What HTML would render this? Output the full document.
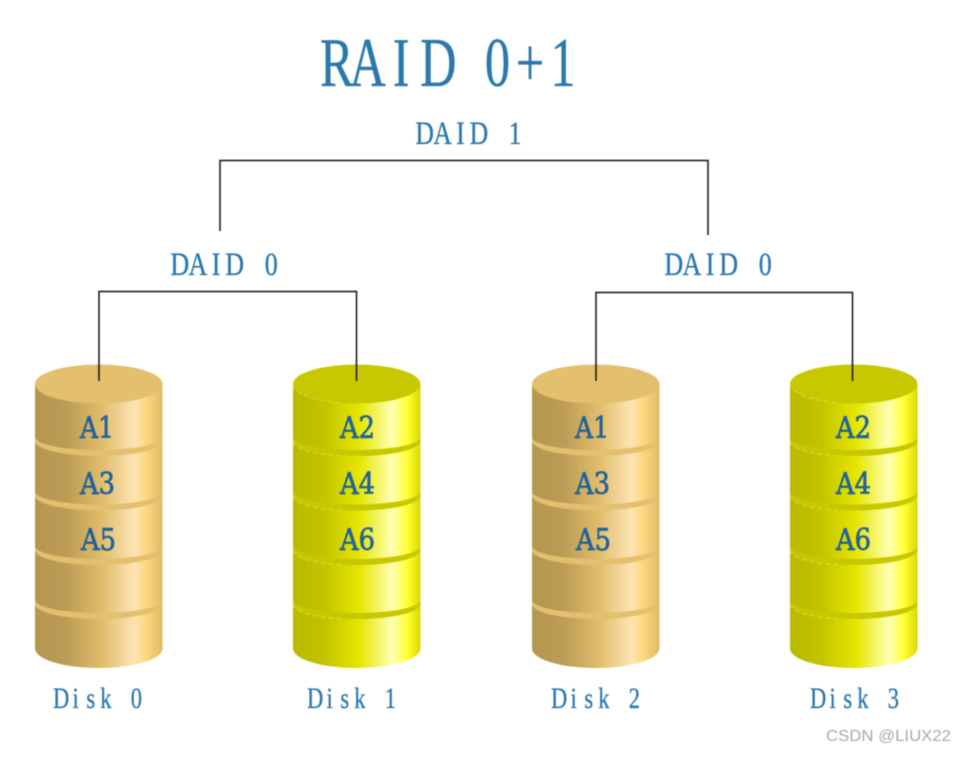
<!DOCTYPE html>
<html><head><meta charset="utf-8"><style>
html,body{margin:0;padding:0;background:#fff;width:974px;height:758px;overflow:hidden}
svg{display:block;filter:blur(.4px)}
text{font-family:"Liberation Serif",serif}
.t{fill:#2b78ad;stroke:#2b78ad;stroke-width:.35px}
.a{fill:#1f629c;font-family:"DejaVu Serif",serif;font-size:30px;stroke:#1f629c;stroke-width:.7px}
</style></head><body>
<svg width="974" height="758" viewBox="0 0 974 758" xmlns="http://www.w3.org/2000/svg">
<defs>
<linearGradient id="g"><stop offset="0" stop-color="#b5974f"/><stop offset=".25" stop-color="#bc9c56"/><stop offset=".52" stop-color="#e0bc6a"/><stop offset=".78" stop-color="#fee4b4"/><stop offset=".88" stop-color="#fcd67c"/><stop offset="1" stop-color="#dfbb68"/></linearGradient>
<linearGradient id="y"><stop offset="0" stop-color="#b9b900"/><stop offset=".25" stop-color="#c4c400"/><stop offset=".52" stop-color="#e6e600"/><stop offset=".78" stop-color="#ffffb4"/><stop offset=".9" stop-color="#ffff30"/><stop offset="1" stop-color="#d8d800"/></linearGradient>
<g id="dg">
<path d="M0 384H127.500V648.500A63.750 19.500 0 0 1 0 648.500Z" fill="url(#g)"/>
<ellipse cx="63.750" cy="384" rx="63.750" ry="19.500" fill="#e3bf6e"/>
<path d="M0 437V441A63.750 15 0 0 0 127.500 441V437A63.750 13 0 0 1 0 437Z" fill="#e3bf6e"/>
<path d="M0 491.500V495.500A63.750 15 0 0 0 127.500 495.500V491.500A63.750 13 0 0 1 0 491.500Z" fill="#e3bf6e"/>
<path d="M0 546V550A63.750 15 0 0 0 127.500 550V546A63.750 13 0 0 1 0 546Z" fill="#e3bf6e"/>
<path d="M0 600V604A63.750 15 0 0 0 127.500 604V600A63.750 13 0 0 1 0 600Z" fill="#e3bf6e"/>
</g>
<g id="dy">
<path d="M0 384H127.500V648.500A63.750 19.500 0 0 1 0 648.500Z" fill="url(#y)"/>
<ellipse cx="63.750" cy="384" rx="63.750" ry="19.500" fill="#c8c800"/>
<path d="M0 437V441A63.750 15 0 0 0 127.500 441V437A63.750 13 0 0 1 0 437Z" fill="#c8c800"/>
<path d="M0 491.500V495.500A63.750 15 0 0 0 127.500 495.500V491.500A63.750 13 0 0 1 0 491.500Z" fill="#c8c800"/>
<path d="M0 546V550A63.750 15 0 0 0 127.500 550V546A63.750 13 0 0 1 0 546Z" fill="#c8c800"/>
<path d="M0 600V604A63.750 15 0 0 0 127.500 604V600A63.750 13 0 0 1 0 600Z" fill="#c8c800"/>
<g fill="none" stroke="#eeee88" stroke-width="1" stroke-dasharray="5 3" opacity=".55">
<path d="M0 384A63.750 19.500 0 0 0 50 403"/>
<path d="M0 441A63.750 15 0 0 0 50 456"/>
<path d="M0 495.500A63.750 15 0 0 0 50 510.500"/>
<path d="M0 550A63.750 15 0 0 0 50 565"/>
<path d="M0 604A63.750 15 0 0 0 50 619"/>
</g>
</g>
</defs>

<use href="#dg" x="35"/>
<use href="#dy" x="293"/>
<use href="#dg" x="532"/>
<use href="#dy" x="790"/>

<g fill="none" stroke="#111" stroke-width="1.500">
<path d="M220 231V160.500H708V235"/>
<path d="M99 381V291.500H356.500V381"/>
<path d="M596 381V292.500H852.500V381"/>
</g>

<text class="t" transform="translate(320 86) scale(.72 1)" font-size="70" x="0 41 101 139 200 229 272 320">RAID 0+1</text>
<text class="t" transform="translate(415 144) scale(.78 1)" font-size="33" x="0.500 23.500 52.800 70 93 120">DAID 1</text>
<text class="t" transform="translate(170 275) scale(.79 1)" font-size="33" x="0.500 23.500 52.800 70 93 120">DAID 0</text>
<text class="t" transform="translate(664 275) scale(.79 1)" font-size="33" x="0.500 23.500 52.800 70 93 120">DAID 0</text>

<text class="a" x="80" y="438" textLength="34" lengthAdjust="spacingAndGlyphs">A1</text>
<text class="a" x="80" y="494" textLength="35" lengthAdjust="spacingAndGlyphs">A3</text>
<text class="a" x="81" y="550" textLength="35" lengthAdjust="spacingAndGlyphs">A5</text>
<text class="a" x="340" y="438" textLength="35" lengthAdjust="spacingAndGlyphs">A2</text>
<text class="a" x="340" y="494" textLength="35" lengthAdjust="spacingAndGlyphs">A4</text>
<text class="a" x="340" y="550" textLength="35" lengthAdjust="spacingAndGlyphs">A6</text>
<text class="a" x="575" y="438" textLength="34" lengthAdjust="spacingAndGlyphs">A1</text>
<text class="a" x="575" y="494" textLength="35" lengthAdjust="spacingAndGlyphs">A3</text>
<text class="a" x="576" y="550" textLength="35" lengthAdjust="spacingAndGlyphs">A5</text>
<text class="a" x="836" y="438" textLength="35" lengthAdjust="spacingAndGlyphs">A2</text>
<text class="a" x="836" y="494" textLength="35" lengthAdjust="spacingAndGlyphs">A4</text>
<text class="a" x="836" y="550" textLength="35" lengthAdjust="spacingAndGlyphs">A6</text>

<text class="t" transform="translate(53 708) scale(.75 1)" font-size="30" x="0 26 44.600 63 81 103.600">Disk 0</text>
<text class="t" transform="translate(307 708) scale(.75 1)" font-size="30" x="0 26 44.600 63 81 103.600">Disk 1</text>
<text class="t" transform="translate(551 708) scale(.75 1)" font-size="30" x="0 26 44.600 63 81 103.600">Disk 2</text>
<text class="t" transform="translate(810 708) scale(.75 1)" font-size="30" x="0 26 44.600 63 81 103.600">Disk 3</text>

<text x="826" y="741" font-size="15.500" fill="#a9a9a9" style="font-family:'Liberation Sans',sans-serif" textLength="125" lengthAdjust="spacingAndGlyphs">CSDN @LIUX22</text>
</svg>
</body></html>
